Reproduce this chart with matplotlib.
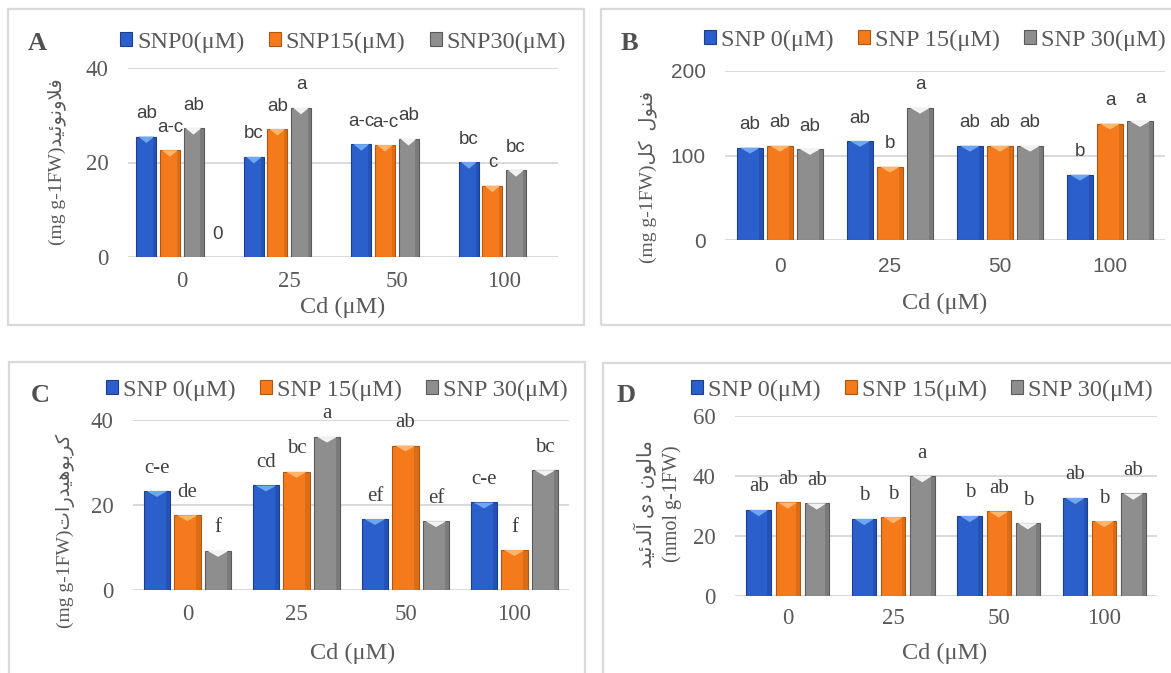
import numpy as np
import matplotlib; matplotlib.use("Agg")
import matplotlib.pyplot as plt
from matplotlib.patches import Rectangle, Polygon, Patch

W, H = 1171, 673
SERIF = ["Liberation Serif", "DejaVu Serif"]
SANS = ["Liberation Sans", "DejaVu Sans"]
ARAB = ["Liberation Serif", "DejaVu Sans"]   # Latin in serif, Arabic glyphs fall back to DejaVu
TXT = "#595959"
BLUE, ORANGE, GREY = "#2b5fcc", "#f47a1c", "#8e8e8e"
EDGES = ["#1b3f8c", "#b0560f", "#5a5a5a"]
TOPS = ["#6ea6f2", "#ffb56a", "#f2f2f2"]

cd = ["0", "25", "50", "100"]

# A  flavonoid
a_snp0 = [25.5, 21.2, 23.9, 20.1]
a_snp15 = [22.6, 27.1, 23.7, 15.1]
a_snp30 = [27.3, 31.6, 25.0, 18.4]
a_empty = [0, np.nan, np.nan, np.nan]
a_let = [["ab", "bc", "a-c", "bc"], ["a-c", "ab", "a-c", "c"], ["ab", "a", "ab", "bc"], ["0", "", "", ""]]
# B  total phenol
b_snp0 = [109.3, 117.2, 111.6, 77.3]
b_snp15 = [111.6, 86.8, 111.6, 137.7]
b_snp30 = [107.7, 156.6, 111.6, 140.8]
b_let = [["ab", "ab", "ab", "b"], ["ab", "b", "ab", "a"], ["ab", "a", "ab", "a"]]
# C  carbohydrate
c_snp0 = [23.3, 24.6, 16.7, 20.6]
c_snp15 = [17.6, 27.8, 34.0, 9.4]
c_snp30 = [9.2, 36.1, 16.2, 28.2]
c_let = [["c-e", "cd", "ef", "c-e"], ["de", "bc", "ab", "f"], ["f", "a", "ef", "bc"]]
# D  malondialdehyde
d_snp0 = [28.7, 25.7, 26.7, 32.7]
d_snp15 = [31.2, 26.3, 28.2, 25.0]
d_snp30 = [30.9, 40.0, 24.3, 34.2]
d_let = [["ab", "b", "b", "ab"], ["ab", "b", "ab", "b"], ["ab", "a", "b", "ab"]]

leg_a = ["SNP0(μM)", "SNP15(μM)", "SNP30(μM)"]
leg_b = ["SNP 0(μM)", "SNP 15(μM)", "SNP 30(μM)"]

# Persian words as presentation forms, written in visual (left-to-right) order
FLAV = "\ufeaa\ufbff\ufe8b\ufeee\ufee7\ufeed\ufefc\ufed3"              # فلاونوئید
PHEN = "\ufede\ufb90  \ufedd\ufeee\ufee8\ufed3"                        # فنول کل
CARB = "\ufe95\ufe8d\ufead\ufeaa\ufbff\ufeeb\ufeee\ufe91\ufeae\ufb90"  # کربوهیدرات
MDA = "\ufeaa\ufbff\ufe8b\ufeaa\ufedf\ufe81 \ufbfc\ufea9 \ufee5\ufeee\ufedf\ufe8e\ufee3"  # مالون دی آلدئید

fig = plt.figure(figsize=(W / 100, H / 100), dpi=100)

def px(x0, y0, x1, y1):
    return [x0 / W, 1 - y1 / H, (x1 - x0) / W, (y1 - y0) / H]

# panel frames
for x0, y0, x1, y1 in [(8, 9, 584, 325), (601, 9, 1185, 325), (9, 362, 585, 690), (603, 363, 1185, 690)]:
    fig.patches.append(Rectangle((x0 / W, 1 - y1 / H), (x1 - x0) / W, (y1 - y0) / H, transform=fig.transFigure,
                                 fill=False, ec="#d9d9d9", lw=1.6))

def panel(rect, series, letters, ymax, step, nslot, space, bw, tickfont, tfs, letfont, lfs, xpad):
    ax = fig.add_axes(px(*rect))
    x = np.arange(len(cd))
    cols = [BLUE, ORANGE, GREY]
    for i, vals in enumerate(series):
        xs = x + (i - (nslot - 1) / 2) * space
        if i < 3:
            bars = ax.bar(xs, vals, bw, color=cols[i], ec=EDGES[i], lw=0.8, zorder=3)
            for b in bars:
                bx, bwid, bh = b.get_x(), b.get_width(), b.get_height()
                ax.add_patch(Polygon([(bx + bwid * 0.1, bh), (bx + bwid * 0.9, bh), (bx + bwid / 2, bh - ymax * 0.035)],
                                     color=TOPS[i], lw=0, zorder=4))
                ax.add_patch(Rectangle((bx + bwid * 0.84, 0), bwid * 0.16, bh, color=EDGES[i], alpha=0.35, lw=0, zorder=4))
        for xi, v, t in zip(xs, vals, letters[i]):
            if t and not np.isnan(v):
                ax.annotate(t, (xi, v), xytext=(0, 16.5), textcoords="offset points", ha="center", va="center",
                            fontsize=lfs, family=letfont, color="#404040", zorder=5)
    ax.set_xlim(-0.5, len(cd) - 0.5)
    ax.set_ylim(0, ymax)
    ax.set_yticks(np.arange(0, ymax + 1, step))
    ax.set_xticks(x)
    ax.set_xticklabels(cd)
    ax.tick_params(length=0, labelcolor=TXT, labelsize=tfs, pad=xpad)
    ax.tick_params(axis="y", pad=14)
    for lab in ax.get_xticklabels() + ax.get_yticklabels():
        lab.set_family(tickfont)
    for s in ax.spines.values():
        s.set_visible(False)
    ax.yaxis.grid(True, color="#d9d9d9", lw=1.4, zorder=0)
    ax.set_axisbelow(True)
    ax.set_facecolor("none")
    return ax

panel((128, 68, 558, 257), [a_snp0, a_snp15, a_snp30, a_empty], a_let, 40, 20, 4, 0.219, 0.186, SERIF, 16.5, SANS, 13.5, 10)
panel((725, 71, 1165, 240), [b_snp0, b_snp15, b_snp30], b_let, 200, 100, 3, 0.273, 0.232, SANS, 15, SANS, 13.5, 12)
panel((133, 420, 569, 590), [c_snp0, c_snp15, c_snp30], c_let, 40, 20, 3, 0.28, 0.24, SERIF, 16.5, SERIF, 15, 10)
panel((735, 416, 1157, 596), [d_snp0, d_snp15, d_snp30], d_let, 60, 20, 3, 0.275, 0.232, SERIF, 16.5, SERIF, 15, 9)

def ftext(x, y, s, **kw):
    fig.text(x / W, 1 - y / H, s, **kw)

# legends
handles = [Patch(fc=c, ec=e, lw=0.8) for c, e in zip([BLUE, ORANGE, GREY], EDGES)]
for (cx, cy), labels in [((343, 42), leg_a), ((935, 40), leg_b), ((337, 390), leg_b), ((922, 390), leg_b)]:
    fig.legend(handles, labels, loc="center", bbox_to_anchor=(cx / W, 1 - cy / H), ncol=3, frameon=False,
               handlelength=0.5, handleheight=0.5, handletextpad=0.2, columnspacing=1.0,
               prop={"family": SERIF, "size": 17.5}, labelcolor=TXT)

# panel letters
for (x, y), t in [((37, 44), "A"), ((629, 43), "B"), ((40, 395), "C"), ((626, 395), "D")]:
    ftext(x, y, t, ha="center", va="center", fontsize=19, fontweight="bold", family=SERIF, color="#505050")

# x labels
for x, y in [(343, 307), (945, 303), (353, 653), (945, 653)]:
    ftext(x, y, "Cd (μM)", ha="center", va="center", fontsize=17.5, family=SERIF, color=TXT)

# y labels
ftext(57, 162, "(mg g-1FW)" + FLAV, rotation=90, ha="center", va="center", fontsize=14, family=ARAB, color=TXT)
ftext(648, 177, "(mg g-1FW)" + PHEN, rotation=90, ha="center", va="center", fontsize=14, family=ARAB, color=TXT)
ftext(65, 531, "(mg g-1FW)" + CARB, rotation=90, ha="center", va="center", fontsize=14, family=ARAB, color=TXT)
ftext(658, 504, MDA + "\n(nmol g-1FW)", rotation=90, ha="center", va="center", fontsize=14.5, family=ARAB,
      color=TXT, linespacing=1.3)

fig.savefig("out.png", dpi=100)
